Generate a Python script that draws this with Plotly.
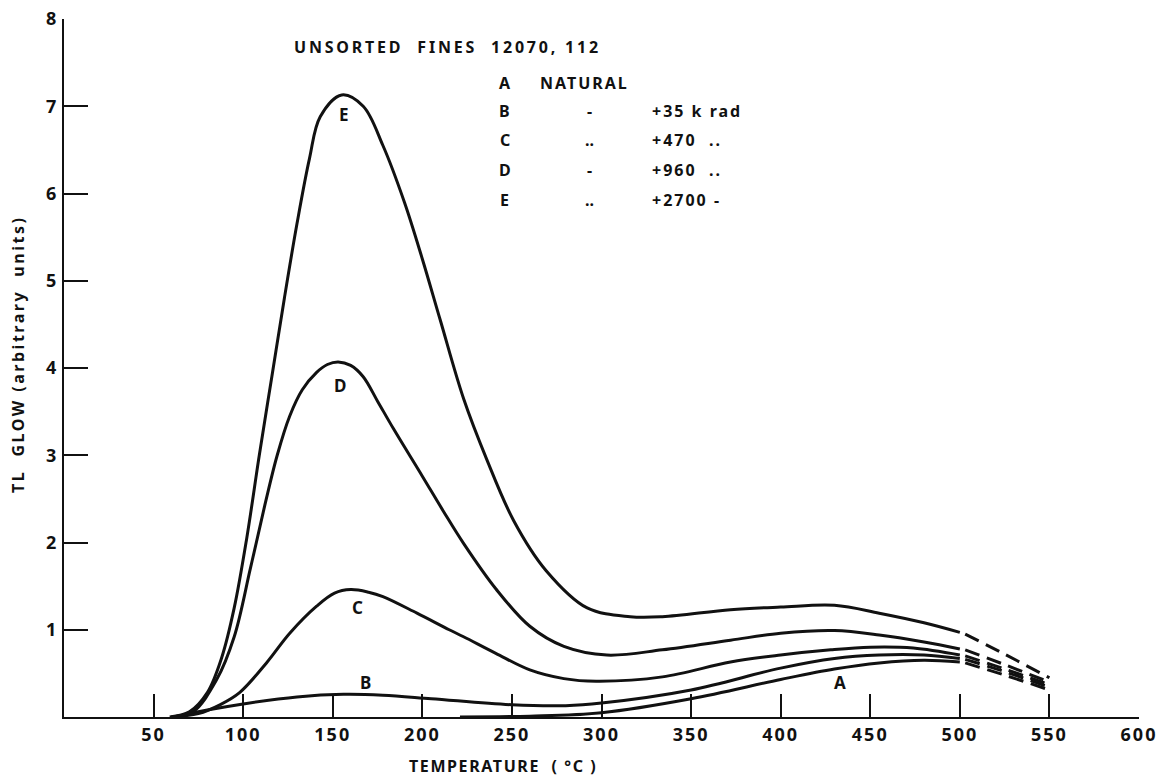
import plotly.graph_objects as go

# ---------------- data ----------------
temp_A = [221, 260, 300, 350, 400, 430, 455, 480, 500]
glow_A = [0.0, 0.01, 0.05, 0.21, 0.43, 0.55, 0.62, 0.65, 0.63]

temp_B = [61, 80, 100, 130, 156, 178, 205, 250, 280, 300, 350, 400, 430, 455, 480, 500]
glow_B = [0.0, 0.08, 0.15, 0.23, 0.26, 0.25, 0.21, 0.14, 0.13, 0.16, 0.31, 0.56, 0.67, 0.71, 0.71, 0.67]

temp_C = [60, 75, 87, 98, 113, 126, 141, 151, 160, 170, 178, 197, 215, 223, 241, 260,
          279, 297, 334, 372, 400, 428, 450, 474, 500]
glow_C = [0.0, 0.04, 0.14, 0.28, 0.62, 0.96, 1.27, 1.42, 1.46, 1.43, 1.38, 1.19, 1.0,
          0.92, 0.73, 0.54, 0.44, 0.41, 0.46, 0.63, 0.71, 0.77, 0.80, 0.79, 0.71]

temp_D = [60, 72, 85, 95, 104, 112, 119, 126, 133, 141, 147, 153, 160, 167, 175, 184,
          200, 212, 223, 241, 260, 279, 303, 334, 372, 400, 430, 455, 480, 500]
glow_D = [0.0, 0.06, 0.42, 0.92, 1.70, 2.42, 3.0, 3.45, 3.75, 3.95, 4.04, 4.07, 4.03,
          3.90, 3.62, 3.30, 2.76, 2.35, 1.99, 1.47, 1.04, 0.81, 0.71, 0.77, 0.88, 0.96,
          0.99, 0.94, 0.86, 0.78]

temp_E = [59, 70, 80, 88, 95, 102, 109, 116, 123, 130, 137, 143, 155, 167, 178, 190,
          200, 210, 223, 236, 251, 269, 292, 316, 334, 372, 400, 430, 455, 480, 500]
glow_E = [0.0, 0.06, 0.28, 0.68, 1.25, 2.05, 3.0, 3.9, 4.8, 5.65, 6.4, 6.88, 7.13, 7.0,
          6.55, 5.9, 5.25, 4.55, 3.65, 2.95, 2.25, 1.68, 1.25, 1.15, 1.15, 1.23, 1.26,
          1.28, 1.19, 1.08, 0.97]

# dashed extrapolated tails
temp_tail = [503, 525, 550]
tail_A = [0.62, 0.48, 0.31]
tail_B = [0.66, 0.52, 0.34]
tail_C = [0.70, 0.55, 0.37]
tail_D = [0.77, 0.60, 0.40]
tail_E = [0.95, 0.72, 0.45]

curve_names = ["A", "B", "C", "D", "E"]
label_x = [433, 168, 164, 154, 156]
label_y = [0.40, 0.40, 1.26, 3.80, 6.90]

x_ticks = [50, 100, 150, 200, 250, 300, 350, 400, 450, 500, 550, 600]
y_ticks = [1, 2, 3, 4, 5, 6, 7, 8]

legend_title = "UNSORTED  FINES  12070, 112"
legend_letters = ["A", "B", "C", "D", "E"]
legend_ditto = ["", "-", "..", "-", ".."]
legend_values = ["NATURAL", "+35 k rad", "+470  ..", "+960  ..", "+2700 -"]

# ---------------- figure ----------------
FONT = "Noto Sans"
INK = "#111111"
W = 700


def sp(text, px=2.0):
    return '<span style="letter-spacing:%.1fpx">%s</span>' % (px, text)


fig = go.Figure()
solid = [(temp_A, glow_A), (temp_B, glow_B), (temp_C, glow_C), (temp_D, glow_D), (temp_E, glow_E)]
tails = [tail_A, tail_B, tail_C, tail_D, tail_E]
for name, (tx, gy), tl in zip(curve_names, solid, tails):
    fig.add_trace(go.Scatter(x=tx, y=gy, mode="lines", name=name,
                             line=dict(color=INK, width=3, shape="spline", smoothing=1.0),
                             showlegend=False, hoverinfo="skip"))
    fig.add_trace(go.Scatter(x=temp_tail, y=tl, mode="lines",
                             line=dict(color=INK, width=3, dash="15px,8px", shape="spline"),
                             showlegend=False, hoverinfo="skip"))

for n, lx, ly in zip(curve_names, label_x, label_y):
    fig.add_annotation(x=lx, y=ly, text=n, showarrow=False,
                       font=dict(family=FONT, size=17, color=INK, weight=W))

# legend block
fig.add_annotation(x=214, y=7.68, text=sp(legend_title, 2.8), showarrow=False,
                   font=dict(family=FONT, size=16, color=INK, weight=W))
row_y = [7.27, 6.95, 6.61, 6.27, 5.93]
for i, (L, d, v) in enumerate(zip(legend_letters, legend_ditto, legend_values)):
    fig.add_annotation(x=246, y=row_y[i], text=L, showarrow=False,
                       font=dict(family=FONT, size=16, color=INK, weight=W))
    if d:
        fig.add_annotation(x=293.5, y=row_y[i], text=d, showarrow=False,
                           font=dict(family=FONT, size=16, color=INK, weight=W))
    vx = 264.5 if i == 0 else 327
    fig.add_annotation(x=vx, y=row_y[i], text=sp(v, 2.0), showarrow=False, xanchor="left",
                       font=dict(family=FONT, size=16, color=INK, weight=W))

# axis titles
fig.add_annotation(xref="paper", yref="paper", x=(503 - 64) / 1075, y=-(766 - 717) / 698,
                   text=sp("TEMPERATURE  ( °C )", 1.6), showarrow=False, yanchor="middle",
                   font=dict(family=FONT, size=16, color=INK, weight=W))
fig.add_annotation(xref="paper", yref="paper", x=-(64 - 18) / 1075, y=(717 - 355) / 698,
                   text=sp("TL  GLOW (arbitrary  units)", 2.5), showarrow=False, textangle=-90,
                   xanchor="center", yanchor="middle",
                   font=dict(family=FONT, size=16, color=INK, weight=W))

fig.update_layout(
    width=1166, height=777,
    margin=dict(l=64, r=27, t=19, b=60),
    paper_bgcolor="white", plot_bgcolor="white",
    showlegend=False,
)
fig.update_xaxes(range=[0, 600], tickvals=x_ticks, ticktext=[sp(str(t), 2.0) for t in x_ticks],
                 ticks="inside", ticklen=23, tickwidth=1.5, tickcolor=INK, automargin=False,
                 showline=True, linecolor=INK, linewidth=2, showgrid=False, zeroline=False,
                 tickfont=dict(family=FONT, size=18, color=INK, weight=W))
fig.update_yaxes(range=[0, 8], tickvals=y_ticks, ticktext=[sp(str(t), 2.0) for t in y_ticks],
                 ticks="inside", ticklen=24, tickwidth=1.5, tickcolor=INK, automargin=False,
                 showline=True, linecolor=INK, linewidth=2, showgrid=False, zeroline=False,
                 tickfont=dict(family=FONT, size=18, color=INK, weight=W))

fig.write_html("out.html", config={"displayModeBar": False},
               post_script="document.body.style.margin='0';document.body.style.overflow='hidden';")
